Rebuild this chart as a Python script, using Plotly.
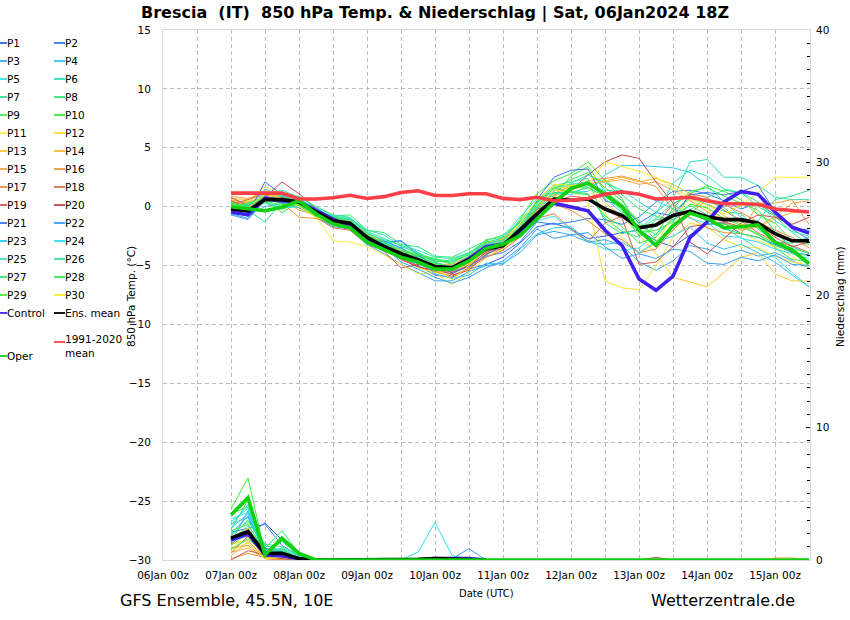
import pandas as pd
import plotly.graph_objects as go

dates = pd.date_range("2024-01-07 00:00", periods=35, freq="6h")

# 850 hPa temperature, one list per member, 6-hourly from 07Jan 00z
t_p1 = [-0.4,-0.8,0.9,0.4,0.3,-0.7,-1.3,-1.7,-3.0,-3.3,-4.3,-5.0,-5.8,-6.0,-5.3,-4.9,-4.3,-3.1,-1.7,-1.4,-1.9,-2.7,-2.5,-2.2,-2.0,-2.9,-3.4,-2.4,-1.5,-1.4,-2.3,-2.6,-3.2,-3.9,-4.1]
t_p2 = [-0.2,-0.4,1.2,0.6,0.5,-0.3,-1.1,-1.2,-2.5,-2.9,-3.5,-4.3,-5.3,-5.5,-5.0,-4.2,-3.9,-3.0,-1.3,-1.5,-1.3,-1.0,-1.1,-1.5,-0.9,0.4,1.3,1.4,1.1,0.5,-0.2,0.3,-0.7,-1.8,-2.0]
t_p3 = [-0.7,-1.1,0.5,1.2,0.6,-0.1,-1.0,-1.6,-3.2,-4.0,-4.9,-5.6,-6.3,-6.3,-5.5,-5.0,-4.8,-3.9,-2.4,-2.1,-2.4,-3.0,-2.8,-3.3,-4.7,-5.4,-4.6,-3.3,-3.6,-4.1,-3.7,-4.2,-3.9,-4.6,-5.2]
t_p4 = [-0.5,-0.7,0.0,0.3,0.1,-0.4,-1.6,-1.4,-2.6,-3.1,-2.9,-3.9,-4.7,-5.2,-4.7,-3.5,-2.7,-1.3,0.0,1.1,1.2,1.3,2.7,3.5,3.5,3.4,3.3,2.9,1.8,0.4,-0.9,-1.7,-2.2,-3.4,-4.0]
t_p5 = [-0.3,-0.2,0.8,0.4,0.2,-0.4,-1.1,-1.2,-2.2,-3.1,-3.8,-4.9,-5.4,-5.4,-4.3,-3.5,-3.1,-2.6,-1.2,-0.8,-2.0,-2.9,-3.6,-3.7,-3.5,-2.3,-1.1,-0.2,-1.3,-2.5,-2.6,-3.6,-4.3,-5.6,-6.8]
t_p6 = [-0.6,-0.6,0.9,1.1,0.7,-0.2,-0.9,-1.0,-2.0,-2.4,-3.4,-3.9,-4.6,-4.7,-3.9,-3.2,-2.8,-1.8,-0.1,1.3,2.0,2.7,2.0,1.4,0.4,-0.5,0.7,3.8,4.0,2.5,2.5,1.8,0.8,0.6,0.6]
t_p7 = [0.1,-0.3,-1.3,0.4,0.6,-0.3,-1.0,-1.1,-2.2,-2.9,-3.7,-4.2,-4.8,-5.0,-4.4,-3.4,-3.4,-2.0,-0.3,1.0,1.3,1.1,-1.0,-2.1,-2.6,-1.6,-0.4,0.7,0.2,-0.4,-0.6,-1.9,-3.0,-3.1,-2.6]
t_p8 = [0.0,0.1,0.4,0.9,0.9,0.0,-0.8,-0.7,-2.0,-2.2,-3.2,-3.4,-4.2,-4.3,-3.6,-2.9,-2.4,-1.4,0.5,1.9,1.7,1.6,2.3,1.0,-0.2,-0.8,-1.1,-0.3,0.8,1.4,1.2,0.0,-0.8,-2.2,-3.2]
t_p9 = [-0.1,-0.2,0.3,-0.2,0.2,-0.5,-1.3,-1.5,-2.6,-3.2,-3.7,-4.0,-4.7,-4.5,-3.9,-3.0,-2.7,-1.9,-0.5,0.9,2.6,3.4,1.3,0.2,-1.2,-2.9,-2.0,-0.5,-1.2,-1.5,-1.7,-2.3,-3.5,-4.5,-4.6]
t_p10 = [0.2,0.0,0.5,-0.5,0.4,-0.4,-0.9,-1.2,-2.4,-3.1,-3.6,-4.2,-4.5,-4.9,-4.2,-3.0,-2.9,-1.1,1.1,2.2,2.8,3.8,2.2,0.7,-2.2,-2.0,-1.3,1.1,1.8,1.3,0.6,-0.7,-1.4,-2.9,-3.2]
t_p11 = [-0.2,-0.4,0.4,1.3,0.1,-0.9,-2.9,-3.0,-3.4,-4.1,-4.9,-5.7,-5.6,-5.9,-5.3,-4.0,-3.6,-2.5,-0.9,0.9,1.6,1.7,-0.6,-2.6,-4.0,-3.1,-0.8,0.6,-0.2,-1.1,-2.2,-2.9,-3.4,-4.2,-5.3]
t_p12 = [0.3,0.5,1.7,1.0,0.2,-0.7,-1.6,-1.8,-2.5,-3.5,-4.4,-5.2,-5.6,-6.6,-5.6,-4.3,-3.5,-2.2,-0.3,1.7,1.5,0.3,-6.3,-6.9,-7.05,-5.0,-2.6,-1.4,-1.7,-2.8,-3.4,-3.5,-4.2,-4.7,-5.0]
t_p13 = [0.5,0.4,1.2,0.8,-0.1,-0.6,-1.1,-1.5,-2.6,-3.3,-3.8,-4.5,-4.9,-5.1,-4.5,-3.2,-2.9,-1.9,-0.3,1.4,1.4,1.9,0.3,-0.8,-2.4,-4.0,-6.0,-6.4,-6.8,-5.6,-4.3,-3.9,-5.7,-6.3,-6.3]
t_p14 = [0.7,0.6,1.4,0.5,0.0,-0.5,-1.2,-1.3,-2.3,-3.0,-3.7,-4.4,-5.0,-4.9,-4.3,-3.1,-2.7,-1.6,0.1,1.1,1.8,1.9,2.2,2.5,2.1,2.4,1.9,1.1,0.4,-0.8,-1.5,-1.8,-1.0,-0.5,-0.4]
t_p15 = [0.9,0.7,1.1,0.6,-0.3,-0.7,-1.4,-1.6,-2.8,-3.4,-4.0,-4.6,-5.0,-5.4,-4.8,-3.6,-3.0,-2.2,-0.7,0.8,1.9,2.0,2.1,2.3,1.9,2.1,1.4,0.5,-0.4,-1.3,-2.0,-1.7,-0.8,0.3,0.5]
t_p16 = [0.6,0.3,1.0,0.3,-0.9,-1.0,-1.5,-1.4,-2.7,-3.5,-4.2,-4.7,-5.2,-5.6,-4.9,-3.7,-3.1,-2.1,-0.5,0.6,1.6,2.2,2.4,2.6,2.2,1.7,-0.3,-0.9,-1.8,-2.2,-2.3,0.3,0.3,0.6,-1.5]
t_p17 = [0.4,0.2,0.9,0.9,0.2,-0.8,-1.5,-1.7,-2.9,-3.6,-4.1,-4.8,-5.3,-5.5,-5.1,-3.8,-3.4,-2.4,-0.9,0.2,-0.3,-1.2,-2.3,-2.8,-3.9,-3.6,-2.0,-0.6,0.6,0.2,-0.5,-1.3,-2.0,-2.6,-3.5]
t_p18 = [0.2,0.6,1.1,1.2,0.4,-0.9,-1.8,-2.0,-3.2,-3.7,-4.4,-5.1,-5.5,-5.9,-5.2,-4.3,-3.7,-2.6,-1.0,-0.6,-1.9,-3.0,-1.4,-0.8,-1.7,-1.5,0.2,1.1,0.8,-0.3,-1.2,-2.2,-3.0,-3.3,-3.9]
t_p19 = [0.8,0.1,0.7,0.8,0.3,-0.6,-1.2,-1.3,-3.0,-3.8,-5.2,-4.9,-5.1,-5.8,-5.4,-4.0,-3.5,-2.3,-0.9,0.4,0.9,0.7,-0.2,-1.0,-4.9,-4.7,-3.4,-1.7,-1.5,-1.3,-1.7,-1.5,-2.6,-3.4,-3.0]
t_p20 = [0.5,-0.1,0.8,2.1,1.1,-0.2,-1.0,-1.3,-2.8,-3.5,-4.5,-5.1,-5.4,-5.7,-5.0,-3.9,-3.3,-1.9,-0.2,0.2,1.4,2.7,3.8,4.4,4.1,2.1,0.3,-3.0,-4.0,-2.7,-1.4,-0.7,-0.9,-1.5,-0.9]
t_p21 = [-0.5,-0.6,2.1,1.0,0.3,-0.5,-1.3,-1.5,-2.7,-3.0,-2.9,-4.1,-5.0,-5.6,-5.1,-4.1,-3.3,-2.2,0.6,2.5,3.1,3.2,0.5,0.1,-1.4,-0.5,-0.8,1.0,1.2,1.0,1.3,1.8,-0.4,-1.9,-2.8]
t_p22 = [-0.6,-1.0,0.6,0.3,-0.1,-0.8,-1.7,-1.9,-3.1,-3.4,-4.7,-5.3,-6.0,-6.5,-6.0,-5.2,-4.6,-3.5,-1.9,-2.7,-2.4,-2.2,-3.4,-4.4,-4.0,-4.4,-3.6,-3.8,-4.8,-4.9,-4.3,-4.6,-4.1,-4.9,-5.0]
t_p23 = [-0.4,-0.5,1.5,0.9,0.4,-0.2,-1.2,-1.1,-2.9,-3.2,-3.9,-4.5,-5.7,-6.1,-5.8,-4.8,-4.9,-3.6,-2.3,-1.8,-1.7,-3.0,-3.2,-3.0,-3.9,-3.0,-2.5,-1.7,-3.1,-3.6,-3.2,-3.9,-4.7,-5.8,-6.8]
t_p24 = [-0.3,-0.3,0.4,-0.1,0.0,-0.6,-1.4,-1.8,-3.3,-3.0,-3.6,-4.7,-5.2,-5.3,-4.4,-3.3,-2.5,-0.9,0.7,1.2,1.0,1.8,1.4,1.3,1.1,0.5,-0.2,-1.0,-1.4,-1.7,-2.7,-3.0,-3.6,-4.0,-4.4]
t_p25 = [-0.1,0.1,1.0,1.4,0.8,0.0,-0.7,-0.9,-2.3,-2.8,-3.3,-3.7,-4.3,-4.4,-3.9,-3.1,-2.9,-1.7,0.2,1.6,1.9,2.1,0.7,-0.5,-1.9,-0.6,2.0,3.1,2.6,1.5,1.2,0.4,-1.2,-2.1,-2.5]
t_p26 = [0.1,0.2,0.7,0.9,0.5,-0.3,-0.8,-1.0,-2.1,-2.7,-3.3,-4.0,-4.5,-4.6,-4.1,-3.2,-3.0,-1.5,0.3,1.8,2.1,2.4,-1.4,-2.3,-1.9,-1.0,0.3,0.9,0.5,-0.1,-1.3,-1.2,0.6,0.9,1.4]
t_p27 = [0.3,0.0,0.6,0.6,0.3,-0.5,-1.1,-1.2,-2.5,-3.0,-3.9,-4.3,-4.8,-5.1,-4.6,-3.5,-3.2,-1.9,-0.2,1.2,1.2,1.6,0.9,-0.3,-2.5,-1.1,-0.9,0.1,-0.7,-1.9,-2.3,-2.6,-3.3,-3.8,-4.2]
t_p28 = [0.0,0.3,0.8,0.2,0.2,-0.6,-1.0,-1.3,-2.4,-3.2,-3.8,-4.1,-4.4,-4.8,-4.0,-2.8,-2.6,-1.2,0.4,1.5,2.3,2.9,1.6,0.5,-1.5,-2.4,-0.1,1.3,1.6,0.9,0.3,-0.3,-2.1,-3.6,-3.9]
t_p29 = [0.4,-0.2,0.5,0.1,0.1,-0.8,-1.5,-1.4,-2.7,-3.3,-4.0,-4.4,-4.9,-5.2,-4.5,-3.7,-3.1,-1.8,0.0,1.6,1.2,1.0,-0.8,-1.7,-3.1,-2.6,-0.9,0.2,-0.1,-1.0,-1.6,-2.4,-3.1,-3.5,-4.7]
t_p30 = [0.1,-0.1,1.1,0.7,0.0,-0.9,-1.4,-1.2,-2.8,-3.4,-4.2,-4.6,-5.2,-6.2,-5.0,-3.4,-3.1,-1.4,0.6,1.9,1.8,1.9,3.8,3.4,3.0,2.5,1.6,0.8,0.1,-0.6,0.1,1.2,2.5,2.5,2.5]

t_control = [-0.45,-0.7,0.7,0.5,0.4,-0.35,-1.05,-1.7,-2.75,-3.35,-4.1,-4.6,-5.1,-5.2,-4.4,-3.4,-3.2,-2.15,-0.85,0.3,-0.05,-0.35,-2.0,-3.3,-6.15,-7.1,-5.9,-2.6,-1.3,0.4,1.3,1.05,-0.45,-1.75,-2.25]
t_mean = [-0.2,-0.35,0.6,0.6,0.4,-0.45,-1.2,-1.4,-2.6,-3.4,-4.0,-4.5,-5.1,-5.2,-4.5,-3.6,-3.3,-1.9,-0.6,0.65,0.55,0.65,-0.2,-0.75,-1.8,-1.55,-0.75,-0.4,-0.85,-1.1,-1.1,-1.4,-2.3,-2.9,-2.9]
t_oper = [0.0,-0.2,-0.35,-0.05,0.5,-0.6,-1.45,-1.8,-3.0,-3.65,-4.3,-4.7,-5.3,-5.3,-4.6,-3.55,-3.2,-2.45,-1.0,0.35,1.55,2.0,1.05,0.0,-2.0,-3.3,-1.6,-0.55,-1.0,-1.8,-1.7,-1.55,-3.0,-3.7,-4.85]
t_clim = [1.15,1.15,1.15,1.15,0.65,0.65,0.75,0.97,0.7,0.85,1.2,1.35,0.95,0.95,1.1,1.1,0.7,0.6,0.8,0.5,0.55,0.7,1.05,1.25,1.05,0.65,0.7,0.8,0.5,0.25,0.25,0.2,-0.2,-0.35,-0.45]

# precipitation, lists stop once a member stays dry
r_p1 = [1.6,1.9,2.8,1.5,0.4,0.0]
r_p2 = [2.1,2.4,2.7,1.1,0.3,0.0]
r_p3 = [1.3,3.7,0.7,0.5,0.1,0.0]
r_p4 = [2.6,4.2,0.4,0.8,0.2,0.0]
r_p5 = [3.1,3.6,0.3,0.4,0.0,0.0]
r_p6 = [2.7,3.2,0.6,0.9,0.2,0.0]
r_p7 = [1.9,2.9,1.1,0.7,0.1,0.0]
r_p8 = [2.3,4.5,0.9,2.2,0.5,0.0]
r_p9 = [3.5,4.0,0.5,1.4,0.3,0.0]
r_p10 = [3.85,6.2,0.5,0.8,0.1,0.0]
r_p11 = [0.9,1.7,0.2,0.2,0.0,0.0]
r_p12 = [1.2,1.5,0.1,0.3,0.0,0.0]
r_p13 = [1.7,2.4,0.3,0.1,0.0,0.0]
r_p14 = [0.6,0.9,0.1,0.0,0.0,0.0]
r_p15 = [0.3,1.4,0.2,0.1,0.0,0.0]
r_p16 = [0.1,0.5,0.2,0.0,0.0,0.0,0.0,0.0,0.0,0.0,0.0,0.0,0.0,0.0,0.0,0.0,0.0,0.0,0.0,0.0,0.0,0.0,0.0,0.0,0.0,0.0,0.0,0.0,0.0,0.0,0.0,0.0,0.15,0.15,0.0]
r_p17 = [0.9,1.1,0.1,0.0,0.0,0.0]
r_p18 = [0.5,1.8,0.3,0.1,0.0,0.0]
r_p19 = [0.0,0.7,0.4,0.1,0.0,0.0,0.0,0.0,0.0,0.0,0.1,0.0]
r_p20 = [1.2,2.2,0.3,0.2,0.0,0.0,0.0,0.0,0.0,0.0,0.0,0.0,0.0,0.0,0.0,0.0,0.0,0.0,0.0,0.0,0.0,0.0,0.0,0.0,0.0,0.2,0.0]
r_p21 = [1.5,1.8,0.9,0.6,0.2,0.0]
r_p22 = [2.0,3.3,0.6,0.4,0.1,0.0,0.0,0.0,0.0,0.0,0.0,0.0,0.0,0.1,0.85,0.0]
r_p23 = [2.4,3.5,0.4,0.5,0.1,0.0]
r_p24 = [2.9,3.9,0.3,0.2,0.0,0.0,0.0,0.0,0.0,0.0,0.0,0.6,2.85,0.35,0.0]
r_p25 = [1.4,2.6,0.8,0.7,0.2,0.0]
r_p26 = [1.8,3.0,1.2,1.0,0.3,0.0]
r_p27 = [0.8,1.6,0.5,0.6,0.1,0.0]
r_p28 = [1.1,2.0,0.4,1.7,0.4,0.0,0.0,0.0,0.0,0.0,0.0,0.0,0.0,0.2,0.0]
r_p29 = [2.2,2.7,0.6,0.3,0.0,0.0]
r_p30 = [0.7,1.3,0.1,0.2,0.0,0.0]

r_control = [1.5,2.0,0.4,0.3,0.1,0.0,0.0,0.0,0.0,0.0,0.0,0.0,0.1,0.1,0.1,0.0]
r_mean = [1.65,2.15,0.5,0.5,0.1,0.0,0.0,0.0,0.0,0.0,0.0,0.05,0.1,0.05,0.05,0.0]
r_oper = [3.4,4.7,0.4,1.65,0.5,0.0,0.0,0.0,0.0,0.0,0.0,0.0,0.0,0.0,0.0,0.0,0.0,0.0,0.0,0.0,0.0,0.0,0.0,0.0,0.0,0.0,0.0,0.0,0.0,0.0,0.0,0.0,0.0,0.0,0.0]

temps = [t_p1,t_p2,t_p3,t_p4,t_p5,t_p6,t_p7,t_p8,t_p9,t_p10,t_p11,t_p12,t_p13,t_p14,t_p15,
         t_p16,t_p17,t_p18,t_p19,t_p20,t_p21,t_p22,t_p23,t_p24,t_p25,t_p26,t_p27,t_p28,t_p29,t_p30]
rains = [r_p1,r_p2,r_p3,r_p4,r_p5,r_p6,r_p7,r_p8,r_p9,r_p10,r_p11,r_p12,r_p13,r_p14,r_p15,
         r_p16,r_p17,r_p18,r_p19,r_p20,r_p21,r_p22,r_p23,r_p24,r_p25,r_p26,r_p27,r_p28,r_p29,r_p30]
colors = ["#3060ee","#2d80f2","#35a8f2","#30c8f6","#35e5ee","#30e0b8","#30e090","#30e870","#35ee50","#38f038",
          "#f6f040","#ffe030","#ffc830","#ffb830","#f5a840","#ec9a38","#e88a40","#e07048","#d05850","#c84848",
          "#3a70f0","#30a0f8","#30c8f8","#30e0f8","#30e8b8","#30e890","#30e870","#30f050","#40f030","#f8f020"]
c_control = "#4020f0"
c_mean = "#000000"
c_oper = "#10d010"
c_clim = "#ff4048"

day_ticks = pd.date_range("2024-01-06", "2024-01-15 12:00", freq="12h")
tick_text = [d.strftime("%d") + "Jan 00z" if d.hour == 0 else "" for d in day_ticks]
font = "DejaVu Sans"

fig = go.Figure()

def line(x, y, color, width, axis, name):
    fig.add_trace(go.Scatter(x=x[:len(y)], y=y, mode="lines", yaxis=axis, name=name,
                             line=dict(color=color, width=width), showlegend=False))

for i in range(30):
    line(dates, rains[i], colors[i], 1, "y2", "P%d" % (i + 1))
    line(dates, temps[i], colors[i], 1, "y", "P%d" % (i + 1))
for axis, ctl, mean, oper in [("y2", r_control, r_mean, r_oper), ("y", t_control, t_mean, t_oper)]:
    line(dates, ctl, c_control, 3.6, axis, "Control")
    line(dates, mean, c_mean, 3.6, axis, "Ens. mean")
    line(dates, oper, c_oper, 3.6, axis, "Oper")
line(dates, t_clim, c_clim, 3.6, "y", "1991-2020 mean")

# legend on the left is drawn by hand, two columns of line + label
shapes = []
annots = []
def leg(x0, x1, y, text, color, ty=None):
    shapes.append(dict(type="line", xref="paper", yref="paper", x0=(x0 - 163) / 647, x1=(x1 - 163) / 647,
                       y0=(560 - y) / 530, y1=(560 - y) / 530, line=dict(color=color, width=1.8)))
    annots.append(dict(xref="paper", yref="paper", x=(x1 - 2.2 - 163) / 647, y=(560 - (ty or y)) / 530, text=text,
                       showarrow=False, xanchor="left", yanchor="middle", align="left",
                       font=dict(family=font, size=10.5, color="#000000")))

for i in range(30):
    row = i // 2
    if i % 2 == 0:
        leg(0, 7, 43 + row * 18, "P%d" % (i + 1), colors[i])
    else:
        leg(54, 65, 43 + row * 18, "P%d" % (i + 1), colors[i])
leg(0, 7, 313, "Control", c_control)
leg(54, 65, 313, "Ens. mean", c_mean)
leg(54, 65, 342, "1991-2020<br>mean", c_clim, 346)
leg(0, 7, 356, "Oper", c_oper)

def text(x, y, s, size, bold=False, anchor="left", angle=0):
    annots.append(dict(xref="paper", yref="paper", x=(x - 163) / 647, y=(560 - y) / 530, text="<b>%s</b>" % s if bold else s,
                       showarrow=False, xanchor=anchor, yanchor="middle", textangle=angle,
                       font=dict(family=font, size=size, color="#000000")))

text(435, 12.5, "Brescia&nbsp;&nbsp;(IT)&nbsp;&nbsp;850 hPa Temp. &amp; Niederschlag | Sat, 06Jan2024 18Z", 16, bold=True, anchor="center")
text(118, 600, "GFS Ensemble, 45.5N, 10E", 16)
text(797, 600, "Wetterzentrale.de", 16, anchor="right")
text(486, 593, "Date (UTC)", 10, anchor="center")
text(131, 297, "850 hPa Temp. (°C)", 10.5, anchor="center", angle=-90)
text(840, 296, "Niederschlag (mm)", 10.5, anchor="center", angle=-90)

fig.update_layout(
    width=850, height=620, autosize=False,
    margin=dict(l=163, r=40, t=30, b=60, pad=0),
    paper_bgcolor="white", plot_bgcolor="white",
    font=dict(family=font, size=10.5, color="#000000"),
    shapes=shapes, annotations=annots,
    xaxis=dict(range=["2024-01-06 00:00", "2024-01-15 12:20"], tickvals=day_ticks, ticktext=tick_text,
               showgrid=True, gridcolor="#bcbcbc", griddash="4px,3px", gridwidth=1, zeroline=False,
               tickangle=0, ticks="", ticklabelstandoff=5, showline=True, linecolor="#d8d8d8", mirror=True),
    yaxis=dict(range=[-30, 15], dtick=5, showgrid=True, gridcolor="#bcbcbc", griddash="4px,3px", gridwidth=1,
               zeroline=False, ticks="", ticklabelstandoff=9, showline=True, linecolor="#d8d8d8", mirror=True),
    yaxis2=dict(range=[0, 40], overlaying="y", side="right", dtick=10, showgrid=False, zeroline=False,
                ticks="inside", ticklen=4, tickcolor="#000000", showline=False, ticklabelstandoff=5,
                minor=dict(dtick=1, ticks="inside", ticklen=3, tickcolor="#000000")),
)

fig.write_html("out.html", config=dict(displayModeBar=False), post_script="document.body.style.margin='0'")
